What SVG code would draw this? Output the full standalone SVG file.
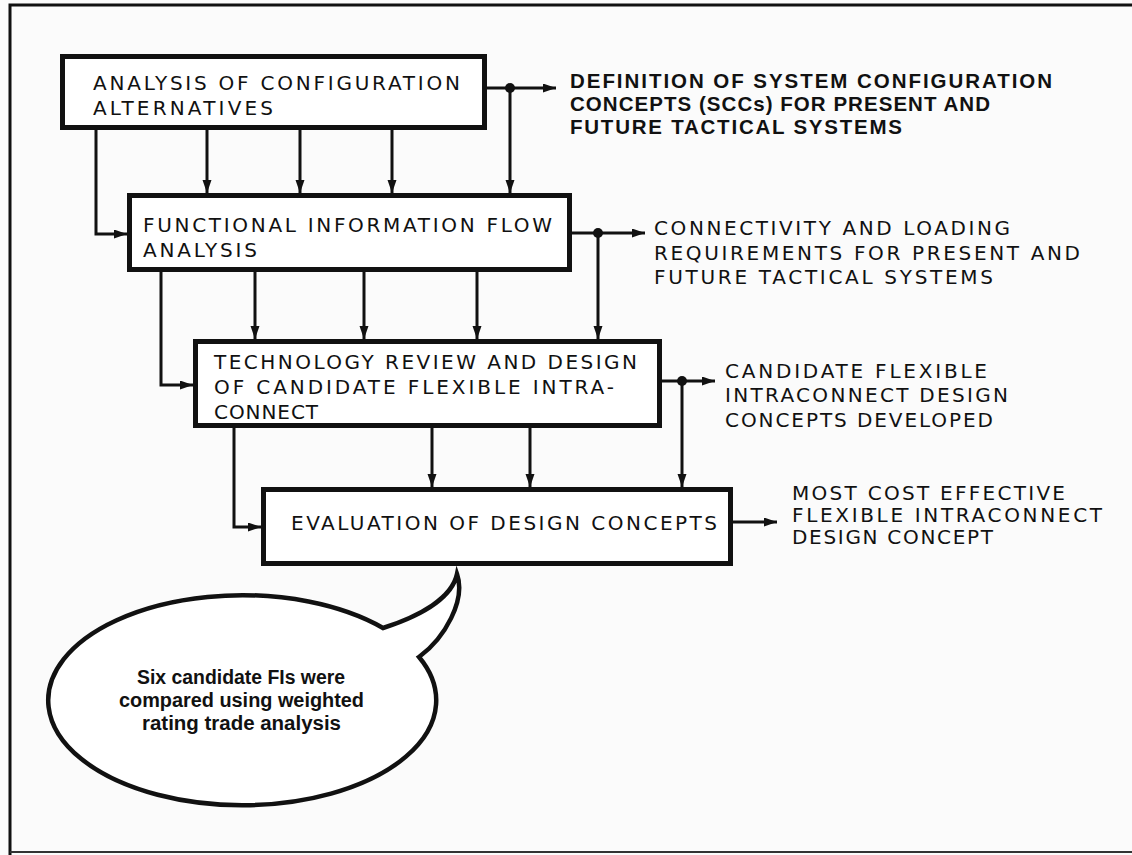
<svg xmlns="http://www.w3.org/2000/svg" width="1132" height="855" viewBox="0 0 1132 855">
<defs>
<style>
.box{fill:#ffffff;stroke:#111;stroke-width:5}
.c{fill:none;stroke:#111;stroke-width:3}
.bt{font-family:"DejaVu Sans","Liberation Sans",Arial,sans-serif;font-size:20px;fill:#111}
.ot{font-family:"DejaVu Sans","Liberation Sans",Arial,sans-serif;font-size:20px;fill:#111}
.ob{font-family:"Liberation Sans",Arial,sans-serif;font-size:20.5px;font-weight:bold;fill:#111}
.nt{font-family:"Liberation Sans",Arial,sans-serif;font-size:20px;font-weight:bold;fill:#111}
.dot{fill:#111}
</style>
<marker id="ah" markerUnits="userSpaceOnUse" markerWidth="14" markerHeight="10" refX="13" refY="4.5" orient="auto">
<path d="M0,0 L13,4.5 L0,9 Z" fill="#111"/>
</marker>
</defs>
<rect x="0" y="0" width="1132" height="855" fill="#fbfbfb"/>
<g id="frame">
<path d="M10 855 V5 H1132" fill="none" stroke="#111" stroke-width="3"/>
<path d="M10 852 H1132" fill="none" stroke="#333" stroke-width="2"/>
</g>
<g id="connectors">
<path class="c" d="M96 130 V234 H127" marker-end="url(#ah)"/>
<path class="c" d="M207 130 V193" marker-end="url(#ah)"/>
<path class="c" d="M300 130 V193" marker-end="url(#ah)"/>
<path class="c" d="M392 130 V193" marker-end="url(#ah)"/>
<path class="c" d="M487 88 H556" marker-end="url(#ah)"/>
<path class="c" d="M510 88 V193" marker-end="url(#ah)"/>
<circle class="dot" cx="510" cy="88" r="5"/>
<path class="c" d="M161 272 V385 H193" marker-end="url(#ah)"/>
<path class="c" d="M255 272 V339" marker-end="url(#ah)"/>
<path class="c" d="M364 272 V339" marker-end="url(#ah)"/>
<path class="c" d="M477 272 V339" marker-end="url(#ah)"/>
<path class="c" d="M572 233 H645" marker-end="url(#ah)"/>
<path class="c" d="M598 233 V339" marker-end="url(#ah)"/>
<circle class="dot" cx="598" cy="233" r="5"/>
<path class="c" d="M234 428 V527 H261" marker-end="url(#ah)"/>
<path class="c" d="M432 428 V487" marker-end="url(#ah)"/>
<path class="c" d="M530 428 V487" marker-end="url(#ah)"/>
<path class="c" d="M662 381 H715" marker-end="url(#ah)"/>
<path class="c" d="M682 381 V487" marker-end="url(#ah)"/>
<circle class="dot" cx="682" cy="381" r="5"/>
<path class="c" d="M733 522 H777" marker-end="url(#ah)"/>
</g>
<g id="n1">
<rect class="box" x="62.5" y="56.5" width="422" height="71"/>
<text class="bt" x="93" y="90" textLength="367">ANALYSIS OF CONFIGURATION</text>
<text class="bt" x="93" y="115" textLength="180">ALTERNATIVES</text>
</g>
<g id="n2">
<rect class="box" x="129.5" y="195.5" width="440" height="74"/>
<text class="bt" x="143" y="232" textLength="409">FUNCTIONAL INFORMATION FLOW</text>
<text class="bt" x="143" y="257" textLength="114">ANALYSIS</text>
</g>
<g id="n3">
<rect class="box" x="195.5" y="341.5" width="464" height="84"/>
<text class="bt" x="214" y="369" textLength="423">TECHNOLOGY REVIEW AND DESIGN</text>
<text class="bt" x="214" y="394" textLength="400">OF CANDIDATE FLEXIBLE INTRA-</text>
<text class="bt" x="214" y="419" textLength="104">CONNECT</text>
</g>
<g id="n4">
<rect class="box" x="263.5" y="489.5" width="467" height="74"/>
<text class="bt" x="291" y="530" textLength="426">EVALUATION OF DESIGN CONCEPTS</text>
</g>
<g id="o1">
<text class="ob" x="570" y="88" textLength="482">DEFINITION OF SYSTEM CONFIGURATION</text>
<text class="ob" x="570" y="111" textLength="420">CONCEPTS (SCCs) FOR PRESENT AND</text>
<text class="ob" x="570" y="134" textLength="332">FUTURE TACTICAL SYSTEMS</text>
</g>
<g id="o2">
<text class="ot" x="654" y="235" textLength="356">CONNECTIVITY AND LOADING</text>
<text class="ot" x="654" y="260" textLength="426">REQUIREMENTS  FOR PRESENT AND</text>
<text class="ot" x="654" y="284" textLength="339">FUTURE TACTICAL SYSTEMS</text>
</g>
<g id="o3">
<text class="ot" x="725" y="378" textLength="262">CANDIDATE FLEXIBLE</text>
<text class="ot" x="725" y="402" textLength="283">INTRACONNECT DESIGN</text>
<text class="ot" x="725" y="427" textLength="268">CONCEPTS DEVELOPED</text>
</g>
<g id="o4">
<text class="ot" x="792" y="500" textLength="273">MOST COST EFFECTIVE</text>
<text class="ot" x="792" y="522" textLength="310">FLEXIBLE INTRACONNECT</text>
<text class="ot" x="792" y="544" textLength="201">DESIGN CONCEPT</text>
</g>
<g id="note">
<path d="M383 628 A194 105 0 1 0 419 657 C445 638 466 600 457 574 C452 598 420 616 383 628 Z" fill="#ffffff" stroke="#111" stroke-width="4.5" stroke-linejoin="miter"/>
<text class="nt" x="137" y="684" textLength="208" lengthAdjust="spacingAndGlyphs">Six candidate FIs were</text>
<text class="nt" x="119" y="707" textLength="245" lengthAdjust="spacingAndGlyphs">compared using weighted</text>
<text class="nt" x="142" y="730" textLength="199" lengthAdjust="spacingAndGlyphs">rating trade analysis</text>
</g>
</svg>
